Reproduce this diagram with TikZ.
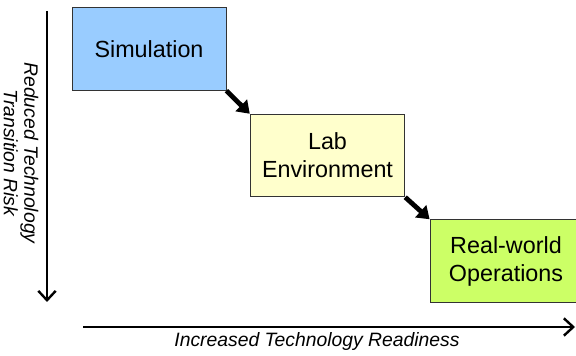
\documentclass[tikz,border=0pt]{standalone}
\usepackage{fontspec}
\setmainfont{Liberation Sans}
\usepackage{tikz}
\usepackage{xcolor}
\usetikzlibrary{arrows.meta,positioning}
\definecolor{simblue}{HTML}{99CCFF}
\definecolor{labyellow}{HTML}{FFFFCC}
\definecolor{realgreen}{HTML}{CCFF66}

\begin{document}
\begin{tikzpicture}[x=0.75pt, y=-0.75pt,
    stage/.style={draw=black!80, line width=0.6pt, minimum height=62pt,
                  inner sep=0pt, align=center,
                  font=\fontsize{17.5}{21}\selectfont},
    axis/.style={line width=2pt, -{Straight Barb[length=7pt, width=13pt, line width=1.8pt]}},
    step arr/.style={line width=3.6pt, -{Triangle[length=9pt, width=12pt]}},
    axlabel/.style={font=\fontsize{14.5}{15.5}\selectfont\itshape, align=center}
]
  \clip (0,0) rectangle (576,356);
  % stages
  \node[stage, fill=simblue, minimum width=115.5pt] (sim) at (149,49) {Simulation};
  \node[stage, fill=labyellow, minimum width=116pt] (lab) at (327.5,155.5) {Lab\\Environment};
  \node[stage, fill=realgreen, minimum width=114pt] (real) at (506,261) {Real-world\\Operations};
  \draw[step arr] (sim.south east) -- (lab.north west);
  \draw[step arr] (lab.south east) -- (real.north west);
  % axes
  \coordinate (ytop) at (47,11);
  \coordinate (ybot) at (47,302);
  \coordinate (xleft) at (83,327);
  \coordinate (xright) at (575,327);
  \draw[axis] (ytop) -- (ybot);
  \draw[axis] (xleft) -- (xright);
  \node[axlabel] (readiness) at (317,342) {Increased Technology Readiness};
  \node[axlabel, rotate=-90] (risk) at (21,153) {Reduced Technology\\Transition Risk};
\end{tikzpicture}
\end{document}
